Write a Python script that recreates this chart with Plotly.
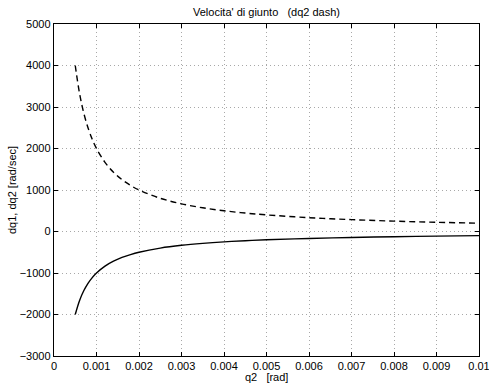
import plotly.graph_objects as go

q2 = [0.0005, 0.0006, 0.0007, 0.0008, 0.0009, 0.001, 0.0012, 0.0014, 0.0016, 0.0018,
      0.002, 0.0025, 0.003, 0.0035, 0.004, 0.0045, 0.005, 0.006, 0.007, 0.008, 0.009, 0.01]
dq2 = [4000, 3333, 2857, 2500, 2222, 2000, 1667, 1429, 1250, 1111,
       1000, 800, 667, 571, 500, 444, 400, 333, 286, 250, 222, 200]
dq1 = [-2000, -1667, -1429, -1250, -1111, -1000, -833, -714, -625, -556,
       -500, -400, -333, -286, -250, -222, -200, -167, -143, -125, -111, -100]

x_ticks = [0, 0.001, 0.002, 0.003, 0.004, 0.005, 0.006, 0.007, 0.008, 0.009, 0.01]
x_tick_labels = ["0", "0.001", "0.002", "0.003", "0.004", "0.005", "0.006", "0.007", "0.008", "0.009", "0.01"]
y_ticks = [-3000, -2000, -1000, 0, 1000, 2000, 3000, 4000, 5000]

font = "Liberation Sans, Arial, sans-serif"
W, H = 489, 386
ML, MR, MT, MB = 54, 10, 24, 30

fig = go.Figure()
fig.add_trace(go.Scatter(x=q2, y=dq1, mode="lines", line=dict(color="black", width=1.4, shape="spline"), name="dq1"))
fig.add_trace(go.Scatter(x=q2, y=dq2, mode="lines", line=dict(color="black", width=1.4, dash="6px,4px", shape="spline"), name="dq2"))

axis_common = dict(
    showline=True, linecolor="black", linewidth=1.4, mirror="ticks",
    ticks="inside", ticklen=4, tickcolor="black",
    showgrid=True, gridcolor="#a8a8a8", griddash="1px,3px", gridwidth=1,
    zeroline=False, automargin=False, ticklabeloverflow="allow",
    tickfont=dict(family=font, size=11, color="black"),
)

fig.update_layout(
    width=W, height=H,
    margin=dict(l=ML, r=MR, t=MT, b=MB),
    paper_bgcolor="white", plot_bgcolor="white",
    showlegend=False,
    font=dict(family=font, size=11, color="black"),
    title=dict(text="Velocita' di giunto   (dq2 dash)", x=0.5, xref="paper", xanchor="center",
               yref="container", y=1 - 12 / H, yanchor="middle", pad=dict(t=0, b=0),
               font=dict(family=font, size=11, color="black")),
    xaxis=dict(range=[0, 0.01], tickvals=x_ticks, ticktext=x_tick_labels, **axis_common),
    yaxis=dict(range=[-3000, 5000], tickvals=y_ticks, **axis_common),
    annotations=[
        dict(text="q2   [rad]", xref="paper", yref="paper", x=0.5, y=0, xanchor="center", yanchor="middle",
             yshift=-21, showarrow=False, font=dict(family=font, size=11, color="black")),
        dict(text="dq1, dq2 [rad/sec]", xref="paper", yref="paper", x=0, y=0.5, xanchor="center", yanchor="middle",
             xshift=-(ML - 12), textangle=-90, showarrow=False, font=dict(family=font, size=11, color="black")),
    ],
)

fig.write_html("out.html", config={"displayModeBar": False},
               post_script="document.body.style.margin='0';")
